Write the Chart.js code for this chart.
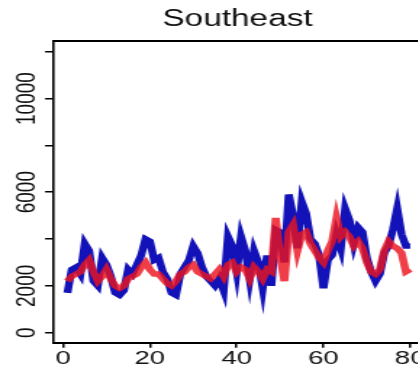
<!DOCTYPE html>
<html>
<head>
<meta charset="utf-8">
<script src="https://cdn.jsdelivr.net/npm/chart.js@4/dist/chart.umd.min.js"></script>
<style>
  html, body { margin: 0; padding: 0; background: #fff; overflow: hidden; width: 418px; height: 366px; }
  /* the graph is drawn narrow and widened horizontally */
  #wrap { position: absolute; left: 0; top: 0; width: 300px; height: 366px; transform: scaleX(1.45); transform-origin: 0 0; }
  canvas { display: block; }
</style>
</head>
<body>
<div id="wrap"><canvas id="c" width="300" height="366"></canvas></div>
<script>
// Southeast region, periods 1-80
const periods = [1,2,3,4,5,6,7,8,9,10,11,12,13,14,15,16,17,18,19,20,
  21,22,23,24,25,26,27,28,29,30,31,32,33,34,35,36,37,38,39,40,
  41,42,43,44,45,46,47,48,49,50,51,52,53,54,55,56,57,58,59,60,
  61,62,63,64,65,66,67,68,69,70,71,72,73,74,75,76,77,78,79,80];

// observed series (blue)
const observed = [1700,2700,2800,2500,3800,3500,2200,2000,3200,2900,
  2400,1700,1600,1800,2700,2500,2900,3300,4000,3900,
  3100,3200,2600,2300,1700,1600,2500,2800,3100,3700,
  3400,2800,2400,2200,2000,2300,1800,4100,3700,2600,
  4100,3500,2300,3500,3000,1900,3300,2000,4400,4300,
  3000,5900,5000,3600,5600,5100,4000,3800,3300,1900,
  3100,3300,4200,3600,5300,4800,3800,4500,4300,3200,
  2600,2200,2500,3400,3700,4400,5300,4200,3700,3700];

// fitted series (red)
const fitted = [2200,2400,2500,2600,2900,3100,2600,2200,2400,2700,
  2300,2000,1900,2000,2300,2400,2500,2800,3000,2700,
  2500,2500,2300,2100,2000,2200,2500,2600,2800,2900,
  2600,2500,2400,2300,2500,2700,2400,2900,3000,2600,
  2800,2700,2300,2800,2600,2300,2700,2600,4900,3300,
  2200,4300,4600,3500,4200,4300,3800,3500,3200,3000,
  3500,3900,4900,4100,4300,4100,3700,3900,3600,3000,
  2600,2500,2700,3500,3900,3700,3600,3400,2600,2700];

const xTickValues = [0, 20, 40, 60, 80];
const yTickValues = [0, 2000, 4000, 6000, 8000, 10000, 12000];
const yTickLabels = [0, 2000, 6000, 10000];

const toPoints = (xs, ys) => xs.map((x, i) => ({ x: x, y: ys[i] }));

const black = '#000';
const fontFamily = 'Liberation Sans, Arial, sans-serif';
const xRange = { min: -2.3, max: 82.7 };
const yRange = { min: -430, max: 12470 };

new Chart(document.getElementById('c'), {
  type: 'line',
  data: {
    datasets: [
      { label: 'fitted', data: toPoints(periods, fitted), borderColor: 'rgba(236,20,32,0.82)',
        borderWidth: 5.5, pointRadius: 0, tension: 0, order: 0 },
      { label: 'observed', data: toPoints(periods, observed), borderColor: '#1212b8',
        borderWidth: 5.5, pointRadius: 0, tension: 0, order: 1 }
    ]
  },
  options: {
    responsive: false,
    animation: false,
    devicePixelRatio: 1,
    layout: { padding: { left: 0, right: 9, top: 0, bottom: 0 } },
    plugins: {
      legend: { display: false },
      tooltip: { enabled: false },
      title: {
        display: true, text: 'Southeast', fullSize: false, color: '#111',
        font: { family: fontFamily, size: 23, weight: 'normal', lineHeight: 1.2 },
        padding: { top: 6, bottom: 7.1 }
      }
    },
    scales: {
      x: {
        type: 'linear', position: 'bottom', min: xRange.min, max: xRange.max,
        afterBuildTicks: s => { s.ticks = xTickValues.map(v => ({ value: v })); },
        afterFit: s => { s.height = 23.3; },
        grid: { display: true, drawOnChartArea: false, drawTicks: true, tickLength: 5, color: black, lineWidth: 1.5 },
        border: { display: true, color: black, width: 2 },
        ticks: { color: '#111', padding: 0, maxRotation: 0, autoSkip: false,
          font: { family: fontFamily, size: 19 } }
      },
      xTop: {
        type: 'linear', position: 'top', min: xRange.min, max: xRange.max,
        afterFit: s => { s.height = 0; },
        grid: { display: false },
        border: { display: true, color: black, width: 2 },
        ticks: { display: false }
      },
      y: {
        type: 'linear', position: 'left', min: yRange.min, max: yRange.max,
        afterBuildTicks: s => { s.ticks = yTickValues.map(v => ({ value: v })); },
        afterFit: s => { s.width = 36.6; },
        grid: { display: true, drawOnChartArea: false, drawTicks: true, tickLength: 5.5, color: black, lineWidth: 1.5 },
        border: { display: true, color: black, width: 1.6 },
        ticks: {
          autoSkip: false, minRotation: 90, maxRotation: 90, crossAlign: 'center', padding: -14,
          color: '#111', font: { family: fontFamily, size: 19 },
          callback: v => yTickLabels.includes(v) ? String(v) : ''
        }
      }
    }
  }
});
</script>
</body>
</html>
